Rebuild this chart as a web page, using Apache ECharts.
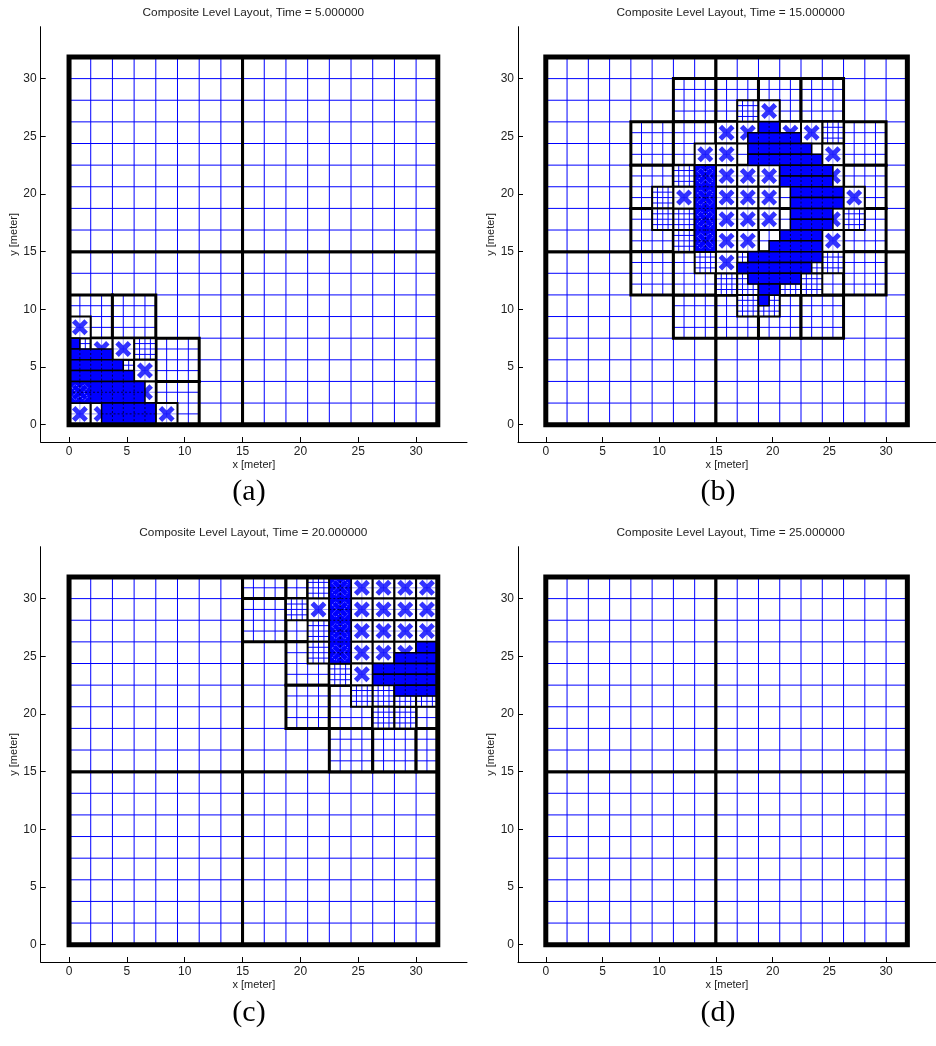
<!DOCTYPE html>
<html>
<head>
<meta charset="utf-8">
<script src="https://cdn.jsdelivr.net/npm/echarts@6/dist/echarts.min.js"></script>
<style>
  html, body { margin: 0; padding: 0; background: #fff; }
  #chart { width: 936px; height: 1046px; }
</style>
</head>
<body>
<div id="chart"></div>
<script>
// ---- axis ticks and text ----
const tickValues = [0, 5, 10, 15, 20, 25, 30];
const panelTitles = [
  'Composite Level Layout, Time = 5.000000',
  'Composite Level Layout, Time = 15.000000',
  'Composite Level Layout, Time = 20.000000',
  'Composite Level Layout, Time = 25.000000'
];
const panelCaptions = ['(a)', '(b)', '(c)', '(d)'];

// ---- patch extents [x0, y0, x1, y1] in meters ----
const domainBox = [[0, 0, 31.875, 31.875]];
const level0Patches = [[0, 0, 15, 15], [15, 0, 31.875, 15], [0, 15, 15, 31.875], [15, 15, 31.875, 31.875]];

// (a) t = 5
const level1A = [[0, 7.5, 3.75, 11.25], [3.75, 7.5, 7.5, 11.25], [7.5, 3.75, 11.25, 7.5], [7.5, 0, 11.25, 3.75],
  [0, 0, 3.75, 3.75], [3.75, 0, 7.5, 3.75], [0, 3.75, 3.75, 7.5], [3.75, 3.75, 7.5, 7.5]];
const level2A = [[5.625, 5.625, 7.5, 7.5], [0, 5.625, 1.875, 7.5], [3.75, 3.75, 5.625, 5.625]];
const level3A = [[0, 6.5625, 0.9375, 7.5], [0, 5.625, 3.75, 6.5625], [0, 4.6875, 4.6875, 5.625],
  [0, 3.75, 5.625, 4.6875], [0, 1.875, 6.5625, 3.75], [2.8125, 0, 7.5, 1.875]];
const tagsA = [[0.9375, 8.4375], [4.6875, 6.5625], [6.5625, 4.6875], [0.9375, 0.9375], [8.4375, 0.9375],
  [2.8125, 6.5625], [0.9375, 2.8125], [6.5625, 2.8125], [2.8125, 0.9375]];

// (b) t = 15
const level1B = [
  [11.25, 26.25, 15, 30], [15, 26.25, 18.75, 30], [18.75, 26.25, 22.5, 30], [22.5, 26.25, 26.25, 30],
  [11.25, 7.5, 15, 11.25], [15, 7.5, 18.75, 11.25], [18.75, 7.5, 22.5, 11.25], [22.5, 7.5, 26.25, 11.25],
  [7.5, 22.5, 11.25, 26.25], [7.5, 18.75, 11.25, 22.5], [7.5, 15, 11.25, 18.75], [7.5, 11.25, 11.25, 15],
  [26.25, 22.5, 30, 26.25], [26.25, 18.75, 30, 22.5], [26.25, 15, 30, 18.75], [26.25, 11.25, 30, 15],
  [11.25, 11.25, 15, 15], [15, 11.25, 18.75, 15], [18.75, 11.25, 22.5, 15], [22.5, 11.25, 26.25, 15],
  [11.25, 15, 15, 18.75], [15, 15, 18.75, 18.75], [18.75, 15, 22.5, 18.75], [22.5, 15, 26.25, 18.75],
  [11.25, 18.75, 15, 22.5], [15, 18.75, 18.75, 22.5], [18.75, 18.75, 22.5, 22.5], [22.5, 18.75, 26.25, 22.5],
  [11.25, 22.5, 15, 26.25], [15, 22.5, 18.75, 26.25], [18.75, 22.5, 22.5, 26.25], [22.5, 22.5, 26.25, 26.25]];
const level2B = [[16.875, 26.25, 18.75, 28.125], [16.875, 9.375, 18.75, 11.25], [18.75, 9.375, 20.625, 11.25],
  [11.25, 20.625, 13.125, 22.5], [9.375, 18.75, 11.25, 20.625], [9.375, 16.875, 11.25, 18.75],
  [11.25, 16.875, 13.125, 18.75], [11.25, 15, 13.125, 16.875], [13.125, 13.125, 15, 15],
  [15, 11.25, 16.875, 13.125], [16.875, 11.25, 18.75, 13.125], [20.625, 11.25, 22.5, 13.125],
  [22.5, 11.25, 24.375, 13.125], [24.375, 13.125, 26.25, 15], [26.25, 16.875, 28.125, 18.75],
  [24.375, 24.375, 26.25, 26.25], [16.875, 13.125, 18.75, 15], [18.75, 13.125, 20.625, 15],
  [20.625, 13.125, 22.5, 15], [22.5, 13.125, 24.375, 15]];
const level3B = [[18.75, 25.3125, 20.625, 26.25], [17.8125, 24.375, 22.5, 25.3125],
  [17.8125, 23.4375, 23.4375, 24.375], [17.8125, 22.5, 24.375, 23.4375], [20.625, 21.5625, 25.3125, 22.5],
  [20.625, 20.625, 25.3125, 21.5625], [21.5625, 19.6875, 26.25, 20.625], [21.5625, 18.75, 26.25, 19.6875],
  [21.5625, 17.8125, 25.3125, 18.75], [21.5625, 16.875, 25.3125, 17.8125], [20.625, 15.9375, 24.375, 16.875],
  [19.6875, 15, 24.375, 15.9375], [17.8125, 14.0625, 24.375, 15], [16.875, 13.125, 23.4375, 14.0625],
  [17.8125, 12.1875, 22.5, 13.125], [18.75, 11.25, 20.625, 12.1875], [18.75, 10.3125, 19.6875, 11.25],
  [13.125, 15, 15, 22.5]];
const tagsB = [[19.6875, 27.1875],
  [15.9375, 25.3125], [17.8125, 25.3125], [21.5625, 25.3125], [23.4375, 25.3125],
  [14.0625, 23.4375], [15.9375, 23.4375], [25.3125, 23.4375],
  [14.0625, 21.5625], [15.9375, 21.5625], [17.8125, 21.5625], [19.6875, 21.5625], [25.3125, 21.5625],
  [12.1875, 19.6875], [14.0625, 19.6875], [15.9375, 19.6875], [17.8125, 19.6875], [19.6875, 19.6875], [27.1875, 19.6875],
  [14.0625, 17.8125], [15.9375, 17.8125], [17.8125, 17.8125], [19.6875, 17.8125], [25.3125, 17.8125],
  [14.0625, 15.9375], [15.9375, 15.9375], [17.8125, 15.9375], [25.3125, 15.9375],
  [15.9375, 14.0625]];

// (c) t = 20
const level1C = [[15, 30, 18.75, 31.875], [18.75, 30, 20.625, 31.875], [15, 26.25, 18.75, 30],
  [18.75, 26.25, 22.5, 30], [18.75, 22.5, 22.5, 26.25], [18.75, 18.75, 22.5, 22.5], [22.5, 18.75, 26.25, 22.5],
  [26.25, 18.75, 30, 22.5], [30, 18.75, 31.875, 22.5], [22.5, 15, 26.25, 18.75], [26.25, 15, 30, 18.75],
  [30, 15, 31.875, 18.75], [22.5, 22.5, 26.25, 26.25], [26.25, 22.5, 30, 26.25], [30, 22.5, 31.875, 26.25],
  [22.5, 26.25, 26.25, 30], [26.25, 26.25, 30, 30], [30, 26.25, 31.875, 30], [22.5, 30, 26.25, 31.875],
  [26.25, 30, 30, 31.875], [30, 30, 31.875, 31.875]];
const level2C = [[20.625, 30, 22.5, 31.875], [18.75, 28.125, 20.625, 30], [20.625, 26.25, 22.5, 28.125],
  [20.625, 24.375, 22.5, 26.25], [22.5, 22.5, 24.375, 24.375], [24.375, 20.625, 26.25, 22.5],
  [26.25, 20.625, 28.125, 22.5], [26.25, 18.75, 28.125, 20.625], [28.125, 18.75, 30, 20.625],
  [28.125, 20.625, 30, 22.5], [30, 20.625, 31.875, 22.5]];
const level3C = [[22.5, 24.375, 24.375, 31.875], [30, 25.3125, 31.875, 26.25], [28.125, 24.375, 31.875, 25.3125],
  [26.25, 23.4375, 31.875, 24.375], [26.25, 22.5, 31.875, 23.4375], [28.125, 21.5625, 31.875, 22.5]];
const tagsC = [[21.5625, 29.0625],
  [23.4375, 30.9375], [23.4375, 29.0625], [23.4375, 27.1875], [23.4375, 25.3125],
  [25.3125, 30.9375], [25.3125, 29.0625], [25.3125, 27.1875], [25.3125, 25.3125], [25.3125, 23.4375],
  [27.1875, 30.9375], [27.1875, 29.0625], [27.1875, 27.1875], [27.1875, 25.3125],
  [29.0625, 30.9375], [29.0625, 29.0625], [29.0625, 27.1875], [29.0625, 25.3125],
  [30.9375, 30.9375], [30.9375, 29.0625], [30.9375, 27.1875]];

// (d) t = 25: only the base level
const level1D = [];
const level2D = [];
const level3D = [];
const tagsD = [];

// ---- drawing ----
const panels = [
  { l1: level1A, l2: level2A, l3: level3A, tags: tagsA },
  { l1: level1B, l2: level2B, l3: level3B, tags: tagsB },
  { l1: level1C, l2: level2C, l3: level3C, tags: tagsC },
  { l1: level1D, l2: level2D, l3: level3D, tags: tagsD }
];
const gridRects = [
  { left: 40.7, top: 26.7 }, { left: 518, top: 26.7 },
  { left: 40.7, top: 546.7 }, { left: 518, top: 546.7 }
];
const GW = 426.3, GH = 415.3;
const FONT = 'Liberation Sans, Arial, Helvetica, sans-serif';
const BLUE = '#0000ff';
const coarse = 1.875;
const XMARK = 'path://M0,3.5L3.5,0L8,4.5L12.5,0L16,3.5L11.5,8L16,12.5L12.5,16L8,11.5L3.5,16L0,12.5L4.5,8Z';

// a patch: white (or filled) box, its cell lines and a black outline
function boxRenderer(opt) {
  return function (params, api) {
    const x0 = api.value(0), y0 = api.value(1), x1 = api.value(2), y1 = api.value(3);
    const a = api.coord([x0, y0]), b = api.coord([x1, y1]);
    const L = a[0], R = b[0], B = a[1], T = b[1];
    const kids = [];
    if (opt.fill !== 'none') {
      kids.push({ type: 'rect', shape: { x: L, y: T, width: R - L, height: B - T }, style: { fill: opt.fill } });
    }
    if (opt.cell) {
      const nx = Math.round((x1 - x0) / opt.cell), ny = Math.round((y1 - y0) / opt.cell);
      for (let i = 1; i < nx; i++) {
        const px = api.coord([x0 + i * opt.cell, y0])[0];
        kids.push({ type: 'line', shape: { x1: px, y1: T, x2: px, y2: B },
          style: { stroke: opt.lineColor, lineWidth: 1, lineDash: opt.dash || null } });
      }
      for (let j = 1; j < ny; j++) {
        const py = api.coord([x0, y0 + j * opt.cell])[1];
        kids.push({ type: 'line', shape: { x1: L, y1: py, x2: R, y2: py },
          style: { stroke: opt.lineColor, lineWidth: 1, lineDash: opt.dash || null } });
      }
    }
    kids.push({ type: 'rect', shape: { x: L, y: T, width: R - L, height: B - T },
      style: { fill: 'none', stroke: '#000', lineWidth: opt.border } });
    return { type: 'group', children: kids, silent: true };
  };
}

function custom(i, data, z, opt) {
  return { type: 'custom', xAxisIndex: i, yAxisIndex: i, z: z, data: data,
    renderItem: boxRenderer(opt), animation: false, clip: false };
}

const insideAny = (pt, rects) => rects.some(r => pt[0] > r[0] && pt[0] < r[2] && pt[1] > r[1] && pt[1] < r[3]);

const xAxes = [], yAxes = [], grids = [], series = [], graphics = [];
panels.forEach((p, i) => {
  const g = gridRects[i];
  grids.push({ left: g.left, top: g.top, width: GW, height: GH });
  xAxes.push({
    gridIndex: i, type: 'value', min: -2.45, max: 34.4,
    name: 'x [meter]', nameLocation: 'middle', nameGap: 17,
    nameTextStyle: { fontSize: 11, color: '#222', fontFamily: FONT },
    axisLine: { onZero: false, lineStyle: { color: '#000', width: 1 } },
    axisTick: { customValues: tickValues, inside: true, length: 5, lineStyle: { color: '#000' } },
    axisLabel: { customValues: tickValues, fontSize: 12, color: '#222', fontFamily: FONT, margin: 4 },
    splitLine: { show: false }
  });
  yAxes.push({
    gridIndex: i, type: 'value', min: -1.5, max: 34.5,
    name: 'y [meter]', nameLocation: 'middle', nameGap: 20, nameRotate: 90,
    nameTextStyle: { fontSize: 11, color: '#222', fontFamily: FONT },
    axisLine: { onZero: false, lineStyle: { color: '#000', width: 1 } },
    axisTick: { customValues: tickValues, inside: true, length: 5, lineStyle: { color: '#000' } },
    axisLabel: { customValues: tickValues, fontSize: 12, color: '#222', fontFamily: FONT, margin: 4 },
    splitLine: { show: false }
  });

  // every tagged cell sits in a coarse-sized refined box centred on it
  const tagBoxes = p.tags.map(t => [t[0] - coarse / 2, t[1] - coarse / 2, t[0] + coarse / 2, t[1] + coarse / 2]);
  // tags whose centre lies under the finest level only show as a faint outline
  const buriedTags = p.tags.filter(t => insideAny(t, p.l3));

  series.push(custom(i, level0Patches, 2, { fill: '#fff', cell: 1.875, lineColor: BLUE, border: 3 }));
  series.push(custom(i, p.l1, 3, { fill: '#fff', cell: 0.9375, lineColor: BLUE, border: 3 }));
  series.push(custom(i, p.l2, 4, { fill: '#fff', cell: 0.46875, lineColor: BLUE, border: 2 }));
  series.push(custom(i, tagBoxes, 5, { fill: '#fff', cell: 0.9375, lineColor: 'rgba(60,60,255,0.55)', border: 2 }));
  series.push({
    type: 'scatter', xAxisIndex: i, yAxisIndex: i, z: 6, data: p.tags,
    symbol: XMARK, symbolSize: 16, symbolKeepAspect: true, animation: false, silent: true,
    itemStyle: { color: BLUE }
  });
  series.push(custom(i, p.l3, 7, { fill: BLUE, cell: 0.9375, lineColor: '#000040', dash: [2, 2], border: 1.5 }));
  series.push({
    type: 'scatter', xAxisIndex: i, yAxisIndex: i, z: 8, data: buriedTags,
    symbol: XMARK, symbolSize: 16, symbolKeepAspect: true, animation: false, silent: true,
    itemStyle: { color: 'rgba(0,0,0,0)', borderColor: 'rgba(255,255,255,0.75)', borderWidth: 0.8, borderType: [1.5, 1.5] }
  });
  series.push(custom(i, domainBox, 9, { fill: 'none', border: 5 }));

  graphics.push({
    type: 'text', x: g.left + GW / 2 - 0.5, y: g.top - 13.7, silent: true,
    style: { text: panelTitles[i], fontSize: 11.8, fontFamily: FONT, fill: '#222', align: 'center', verticalAlign: 'middle' }
  });
  graphics.push({
    type: 'text', x: i % 2 === 0 ? 249 : 718, y: i < 2 ? 492 : 1013, silent: true,
    style: { text: panelCaptions[i], fontSize: 30, fontFamily: 'Liberation Serif, DejaVu Serif, serif', fill: '#000',
      align: 'center', verticalAlign: 'middle' }
  });
});

const chart = echarts.init(document.getElementById('chart'), null, { renderer: 'canvas' });
chart.setOption({
  animation: false,
  backgroundColor: '#fff',
  grid: grids,
  xAxis: xAxes,
  yAxis: yAxes,
  series: series,
  graphic: graphics
});
</script>
</body>
</html>
